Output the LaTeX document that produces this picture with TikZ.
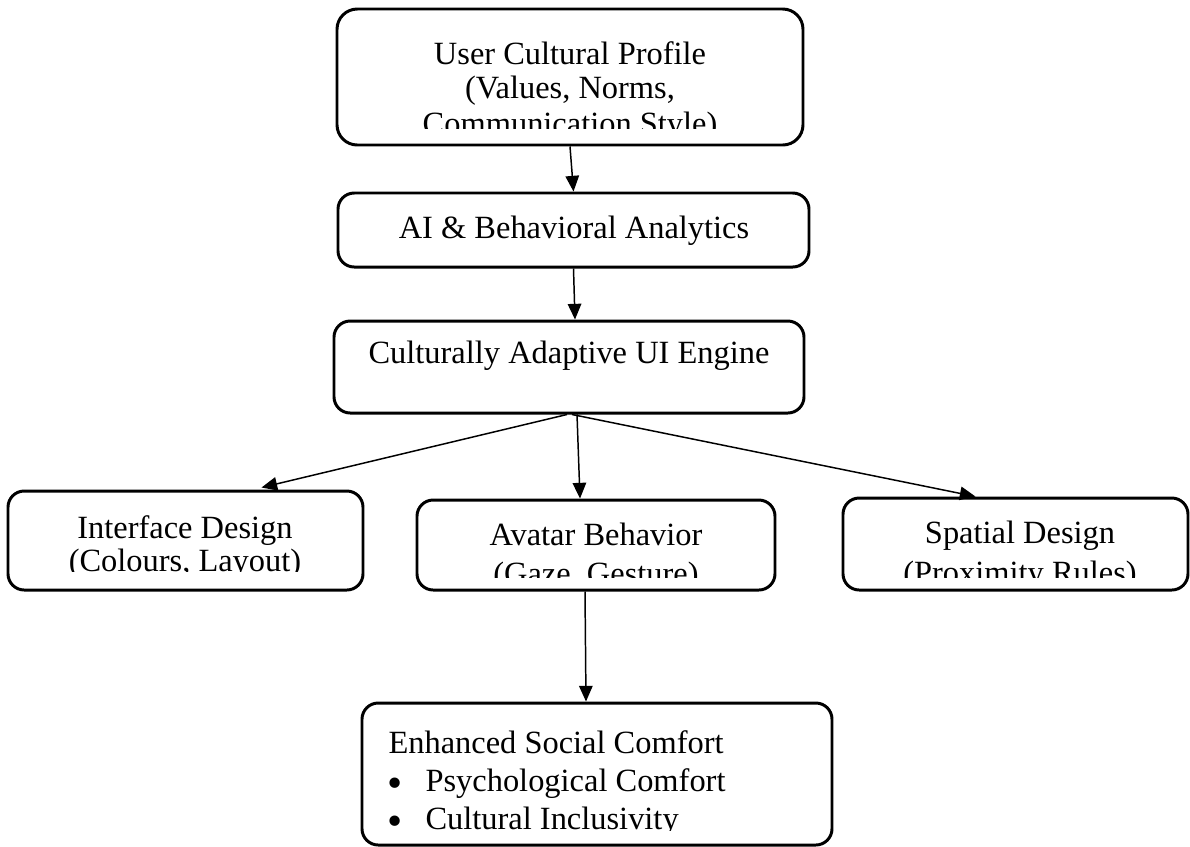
\documentclass[tikz,border=0pt]{standalone}
\usepackage{fontspec}
\setmainfont{Liberation Serif}
\usetikzlibrary{arrows.meta}
\usetikzlibrary{calc}
\newcommand{\px}{0.37pt}

\begin{document}
\begin{tikzpicture}[x=\px, y=-\px, >={Triangle[length=5.8pt,width=5pt]},
    box/.style={draw, line width=1.1pt, rounded corners=6pt, inner sep=0pt},
    txt/.style={inner sep=0pt, anchor=base, font=\fontsize{12}{14}\selectfont},
    dot/.style={inner sep=0pt, anchor=base, text height=5pt, text depth=0pt, font=\fontsize{16}{16}\selectfont},
    link/.style={->, line width=0.55pt}]
      \path[use as bounding box] (0,0) rectangle (1190,846);

      % boxes
      \node[box, rounded corners=7.5pt, minimum width=466*\px, minimum height=136*\px] (profile) at (570,77) {};
      \node[box, minimum width=471*\px, minimum height=74*\px] (analytics) at (573.5,230) {};
      \node[box, minimum width=470*\px, minimum height=92*\px] (engine) at (569,367) {};
      \node[box, minimum width=355*\px, minimum height=99*\px] (interface) at (185.5,540.5) {};
      \node[box, minimum width=358*\px, minimum height=90*\px] (avatar) at (596,545) {};
      \node[box, minimum width=345*\px, minimum height=92*\px] (spatial) at (1015.5,544) {};
      \node[box, minimum width=470*\px, minimum height=142*\px] (comfort) at (597,774) {};

      % profile
      \begin{scope}
        \clip (337,9) rectangle (803,128);
        \node[txt] (profileA) at (570,64.5) {User Cultural Profile};
        \node[txt] (profileB) at (570,98) {(Values, Norms,};
        \node[txt] (profileC) at (570,134) {Communication Style)};
      \end{scope}

      \node[txt] (analyticsA) at (574,238) {AI \& Behavioral Analytics};
      \node[txt] (engineA) at (569,363) {Culturally Adaptive UI Engine};

      % outputs
      \begin{scope}
        \clip (8,491) rectangle (363,571);
        \node[txt] (interfaceA) at (185,538) {Interface Design};
        \node[txt] (interfaceB) at (185,571) {(Colours, Layout)};
      \end{scope}
      \begin{scope}
        \clip (417,500) rectangle (775,577);
        \node[txt] (avatarA) at (596,545) {Avatar Behavior};
        \node[txt] (avatarB) at (596,584) {(Gaze, Gesture)};
      \end{scope}
      \begin{scope}
        \clip (843,498) rectangle (1188,577);
        \node[txt] (spatialA) at (1020,543) {Spatial Design};
        \node[txt] (spatialB) at (1020,583) {(Proximity Rules)};
      \end{scope}

      % comfort
      \begin{scope}
        \clip (362,703) rectangle (832,830);
        \node[txt, anchor=base west] (comfortA) at (388,753) {Enhanced Social Comfort};
        \node[dot] (bulletA) at (395,797) {•};
        \node[txt, anchor=base west] (comfortB) at (425,791) {Psychological Comfort};
        \node[dot] (bulletB) at (395,835) {•};
        \node[txt, anchor=base west] (comfortC) at (425,829) {Cultural Inclusivity};
      \end{scope}

      % arrows
      \draw[link] (profile.south) -- (analytics.north);
      \draw[link] (analytics.south) -- ($(engine.north)+(6,0)$);
      \draw[link] ($(engine.south)+(-2,0)$) -- ($(interface.north)+(76,-2)$);
      \draw[link] ($(engine.south)+(8,0)$) -- ($(avatar.north)+(-16,0)$);
      \draw[link] ($(engine.south)+(3,0)$) -- ($(spatial.north)+(-40,0)$);
      \draw[link] ($(avatar.south)+(-11,0)$) -- ($(comfort.north)+(-11,0)$);
\end{tikzpicture}
\end{document}
